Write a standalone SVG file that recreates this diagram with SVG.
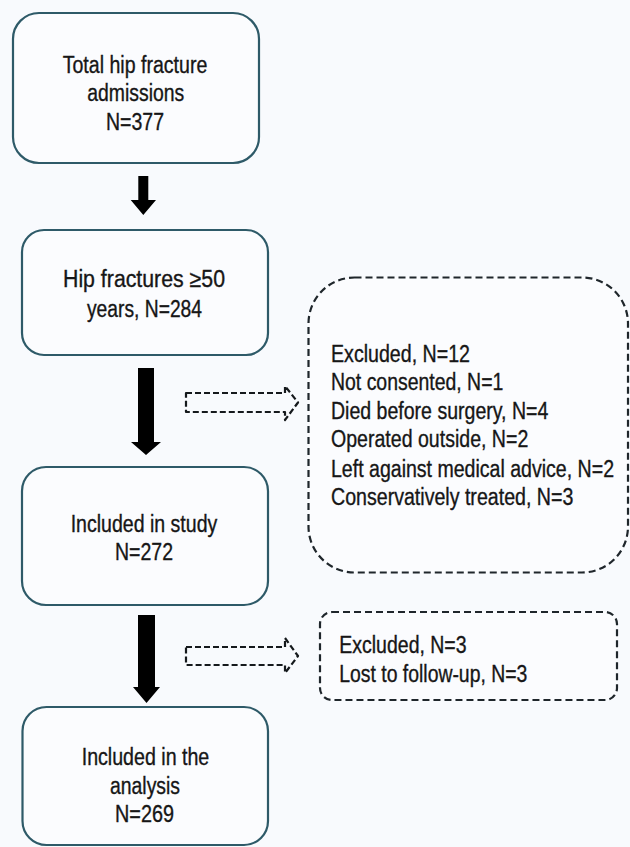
<svg xmlns="http://www.w3.org/2000/svg" width="630" height="847" viewBox="0 0 630 847">
<style>
.bg{fill:#f8fafd}
.box{fill:#fbfcfe;stroke:#2e5a68;stroke-width:2.2}
.dbox{fill:#fbfcfe;stroke:#1f262b;stroke-width:2.2;stroke-dasharray:7 4}
.darr{fill:none;stroke:#15191c;stroke-width:2.2;stroke-dasharray:6 3;stroke-linejoin:round}
.arr{fill:#000}
text{font-family:"Liberation Sans",Arial,sans-serif;font-size:23.5px;fill:#161616;stroke:#161616;stroke-width:0.35}
</style>
<rect class="bg" x="0" y="0" width="630" height="847"/>
<g id="connectors">
<polygon class="arr" points="138.3,176 148.3,176 148.3,200 156,200 143.3,215 130.7,200 138.3,200"/>
<polygon class="arr" points="138,368 154,368 154,442 161,442 146,455 131,442 138,442"/>
<polygon class="arr" points="138,615 155,615 155,687 160,687 146.5,703 133,687 138,687"/>
<path class="darr" d="M186,393 H285 V386 L298,402.5 L285,420 V412 H186 Z"/>
<path class="darr" d="M186,647 H285 V638 L298,656 L285,673 V665 H186 Z"/>
</g>
<g id="n1">
<rect class="box" x="13" y="13" width="246" height="150" rx="26"/>
<text x="62.7" y="72.5" textLength="144.6" lengthAdjust="spacingAndGlyphs">Total hip fracture</text>
<text x="87.3" y="101" textLength="97" lengthAdjust="spacingAndGlyphs">admissions</text>
<text x="106" y="129.5" textLength="58" lengthAdjust="spacingAndGlyphs">N=377</text>
</g>
<g id="n2">
<rect class="box" x="22" y="230" width="246" height="125" rx="22"/>
<text x="63" y="286.5" textLength="162" lengthAdjust="spacingAndGlyphs">Hip fractures ≥50</text>
<text x="87" y="316.5" textLength="115" lengthAdjust="spacingAndGlyphs">years, N=284</text>
</g>
<g id="n3">
<rect class="box" x="22" y="467" width="246" height="138" rx="24"/>
<text x="70.7" y="531.5" textLength="146.6" lengthAdjust="spacingAndGlyphs">Included in study</text>
<text x="115" y="560" textLength="58" lengthAdjust="spacingAndGlyphs">N=272</text>
</g>
<g id="n4">
<rect class="box" x="22.5" y="707" width="245.5" height="138" rx="24"/>
<text x="81.7" y="765" textLength="127.6" lengthAdjust="spacingAndGlyphs">Included in the</text>
<text x="110" y="793.5" textLength="70" lengthAdjust="spacingAndGlyphs">analysis</text>
<text x="115" y="821.5" textLength="59" lengthAdjust="spacingAndGlyphs">N=269</text>
</g>
<g id="ex1">
<rect class="dbox" x="308.5" y="277.5" width="319.5" height="295" rx="46"/>
<text x="331" y="361.5" textLength="139" lengthAdjust="spacingAndGlyphs">Excluded, N=12</text>
<text x="331" y="390" textLength="172.3" lengthAdjust="spacingAndGlyphs">Not consented, N=1</text>
<text x="331" y="418.5" textLength="217.3" lengthAdjust="spacingAndGlyphs">Died before surgery, N=4</text>
<text x="331" y="447.3" textLength="197.3" lengthAdjust="spacingAndGlyphs">Operated outside, N=2</text>
<text x="331" y="476.5" textLength="283" lengthAdjust="spacingAndGlyphs">Left against medical advice, N=2</text>
<text x="331" y="505" textLength="242.3" lengthAdjust="spacingAndGlyphs">Conservatively treated, N=3</text>
</g>
<g id="ex2">
<rect class="dbox" x="320" y="612" width="297" height="88" rx="12"/>
<text x="339.3" y="652.5" textLength="127.3" lengthAdjust="spacingAndGlyphs">Excluded, N=3</text>
<text x="339.3" y="681.5" textLength="188" lengthAdjust="spacingAndGlyphs">Lost to follow-up, N=3</text>
</g>
</svg>
